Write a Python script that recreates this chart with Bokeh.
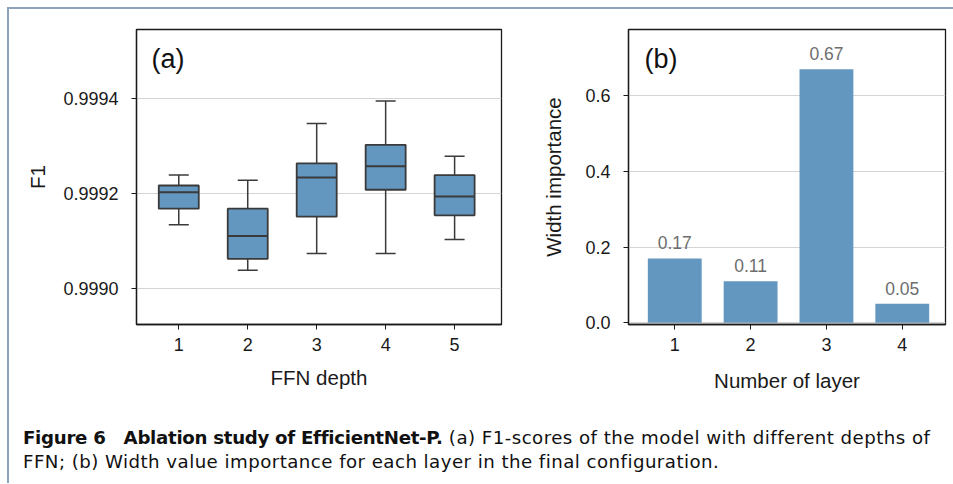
from bokeh.plotting import figure
from bokeh.layouts import column, row
from bokeh.models import Div, FixedTicker, Range1d, NumeralTickFormatter, Label, ColumnDataSource
from bokeh.embed import file_html
from bokeh.resources import INLINE
from bokeh.core.properties import value

# ---- data ----
depths = [1, 2, 3, 4, 5]
whisker_low = [0.999134, 0.999038, 0.999073, 0.999073, 0.999103]
q1 = [0.999168, 0.999062, 0.999151, 0.999208, 0.999154]
median = [0.999203, 0.999110, 0.999234, 0.999258, 0.999194]
q3 = [0.999217, 0.999168, 0.999264, 0.999303, 0.999239]
whisker_high = [0.999239, 0.999228, 0.999348, 0.999396, 0.999279]
f1_ticks = [0.9990, 0.9992, 0.9994]

layers = [1, 2, 3, 4]
importance = [0.17, 0.11, 0.67, 0.05]
imp_ticks = [0.0, 0.2, 0.4, 0.6]

BLUE = "#6497c0"
EDGE = "#3a3a3a"
FONT = "Liberation Sans"

def style(p):
    p.outline_line_color = "#1a1a1a"
    p.outline_line_width = 1.3
    p.xgrid.visible = False
    p.ygrid.grid_line_color = "#d4d4d4"
    p.ygrid.grid_line_width = 1
    for ax in (p.xaxis, p.yaxis):
        ax.axis_line_color = "#1a1a1a"
        ax.axis_line_width = 1.3
        ax.major_tick_line_color = "#1a1a1a"
        ax.major_tick_out = 5
        ax.major_tick_in = 0
        ax.minor_tick_line_color = None
        ax.major_label_text_font = FONT
        ax.major_label_text_font_size = "18px"
        ax.major_label_text_color = "#1a1a1a"
        ax.axis_label_text_font = FONT
        ax.axis_label_text_font_size = "20.5px"
        ax.axis_label_text_font_style = "normal"
        ax.axis_label_text_color = "#1a1a1a"
    p.background_fill_color = "white"
    p.border_fill_color = "white"

# ---- panel (a) ----
xa = Range1d(0.387, 5.68)
ya = Range1d(0.998923, 0.999547)
pa = figure(width=511, height=391, output_backend="svg", toolbar_location=None,
            x_range=xa, y_range=ya,
            min_border_left=127, min_border_right=19, min_border_top=20, min_border_bottom=76)
style(pa)
pa.xaxis.ticker = FixedTicker(ticks=depths)
pa.yaxis.ticker = FixedTicker(ticks=f1_ticks)
pa.yaxis.formatter = NumeralTickFormatter(format="0.0000")
pa.xaxis.axis_label = "FFN depth"
pa.yaxis.axis_label = "F1"
pa.yaxis.major_label_standoff = 13
pa.yaxis.axis_label_standoff = 11
pa.xaxis.major_label_standoff = 8
pa.xaxis.axis_label_standoff = 12

src = ColumnDataSource(dict(x=depths, lo=whisker_low, q1=q1, med=median, q3=q3, hi=whisker_high))
pa.segment(x0="x", y0="hi", x1="x", y1="q3", source=src, line_color=EDGE, line_width=1.5)
pa.segment(x0="x", y0="lo", x1="x", y1="q1", source=src, line_color=EDGE, line_width=1.5)
pa.vbar(x="x", width=0.58, top="q3", bottom="q1", source=src,
        fill_color=BLUE, line_color=EDGE, line_width=1.8)
pa.dash(x="x", y="hi", size=20, angle=0, line_color=EDGE, line_width=1.5, source=src)
pa.dash(x="x", y="lo", size=20, angle=0, line_color=EDGE, line_width=1.5, source=src)
pa.dash(x="x", y="med", size=40, angle=0, line_color=EDGE, line_width=2, source=src)
pa.add_layout(Label(x=xa.start, y=ya.end, x_offset=15, y_offset=-14, text="(a)",
                    text_font=FONT, text_font_size="27px", text_color="#111",
                    text_baseline="top"))

# ---- panel (b) ----
xb = Range1d(0.39, 4.57)
yb = Range1d(-0.0045, 0.775)
pb = figure(width=433, height=391, output_backend="svg", toolbar_location=None,
            x_range=xb, y_range=yb,
            min_border_left=108, min_border_right=8, min_border_top=20, min_border_bottom=76)
style(pb)
pb.xaxis.ticker = FixedTicker(ticks=layers)
pb.yaxis.ticker = FixedTicker(ticks=imp_ticks)
pb.yaxis.formatter = NumeralTickFormatter(format="0.0")
pb.xaxis.axis_label = "Number of layer"
pb.yaxis.axis_label = "Width importance"
pb.yaxis.major_label_standoff = 13
pb.yaxis.axis_label_standoff = 17
pb.xaxis.major_label_standoff = 8
pb.xaxis.axis_label_standoff = 15

bsrc = ColumnDataSource(dict(x=layers, top=importance,
                             lab=["%.2f" % v for v in importance]))
pb.vbar(x="x", width=0.71, top="top", bottom=0, source=bsrc,
        fill_color=BLUE, line_color=None)
pb.text(x="x", y="top", text="lab", source=bsrc, text_align="center",
        text_baseline="bottom", y_offset=-9, text_color="#6e6e6e",
        text_font=value(FONT), text_font_size="17.5px")
pb.add_layout(Label(x=xb.start, y=yb.end, x_offset=16, y_offset=-14, text="(b)",
                    text_font=FONT, text_font_size="27px", text_color="#111",
                    text_baseline="top"))

caption = Div(
    text=('<b style="letter-spacing:-0.3px">Figure 6&nbsp;&nbsp;&nbsp;Ablation study of EfficientNet-P.</b> '
          '(a) F1-scores of the model with different depths of<br>'
          'FFN; (b) Width value importance for each layer in the final configuration.'),
    width=935, height=73,
    styles={"font-family": "'DejaVu Sans'",
            "font-size": "18.2px", "line-height": "24px", "color": "#111",
            "letter-spacing": "0.45px",
            "padding-top": "21px", "padding-left": "9px", "white-space": "nowrap"})

layout = column(row(pa, pb), caption, margin=(7, 0, 0, 7),
                styles={"border-top": "2px solid #8ea3b9", "border-left": "2px solid #8ea3b9"})

open("out.html", "w").write(file_html(layout, INLINE))
